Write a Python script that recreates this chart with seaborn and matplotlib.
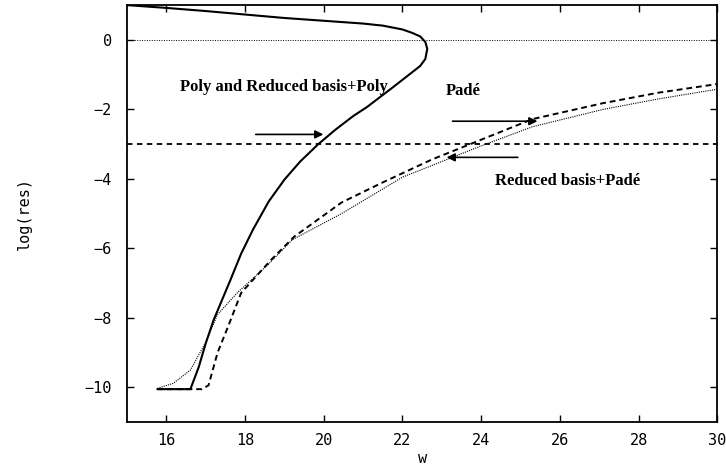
import matplotlib
matplotlib.use("Agg")
import matplotlib.pyplot as plt
import seaborn as sns
import pandas as pd

# Poly (and Reduced basis+Poly) -- solid
poly_w = [15.0, 16.0, 17.0, 18.0, 19.0, 20.0, 21.0, 21.5, 22.0, 22.25, 22.45, 22.58, 22.63,
          22.58, 22.45, 22.1, 21.76, 21.1, 20.75, 20.3, 19.86, 19.4, 19.0, 18.6, 18.2, 17.9,
          17.63, 17.2, 17.0, 16.82, 16.61, 15.77]
poly_res = [1.0, 0.92, 0.83, 0.73, 0.63, 0.55, 0.47, 0.41, 0.3, 0.2, 0.1, -0.06, -0.26,
            -0.55, -0.75, -1.06, -1.36, -1.93, -2.19, -2.58, -3.0, -3.5, -4.02, -4.65, -5.46,
            -6.15, -6.9, -8.06, -8.73, -9.42, -10.05, -10.05]

# Padé -- dashed
pade_w = [15.77, 16.5, 16.9, 17.07, 17.3, 17.56, 17.9, 18.66, 19.25, 20.45, 21.5, 22.75,
          23.5, 25.3, 27.1, 28.5, 30.0]
pade_res = [-10.05, -10.05, -10.05, -9.94, -9.0, -8.27, -7.28, -6.33, -5.66, -4.68, -4.1,
            -3.44, -3.1, -2.28, -1.82, -1.52, -1.27]

# Reduced basis+Padé -- dotted
rbp_w = [15.77, 16.18, 16.61, 17.0, 17.3, 17.8, 18.58, 19.2, 20.45, 22.0, 24.0, 25.3,
         27.1, 28.5, 30.0]
rbp_res = [-10.03, -9.88, -9.5, -8.7, -7.9, -7.28, -6.47, -5.75, -5.0, -3.95, -3.05, -2.5,
           -2.0, -1.7, -1.42]

tol_level = -3.0
zero_level = 0.0

x_ticks = [16, 18, 20, 22, 24, 26, 28, 30]
y_ticks = [0, -2, -4, -6, -8, -10]

sns.set_style("ticks")
plt.rcParams['font.family'] = ['DejaVu Sans Mono', 'DejaVu Sans']
plt.rcParams['text.color'] = 'black'
plt.rcParams['axes.labelcolor'] = 'black'

fig = plt.figure(figsize=(7.26, 4.67), dpi=100)
ax = fig.add_axes([0.175, 0.096, 0.813, 0.893])

df_poly = pd.DataFrame({"w": poly_w, "res": poly_res})
df_pade = pd.DataFrame({"w": pade_w, "res": pade_res})
df_rbp = pd.DataFrame({"w": rbp_w, "res": rbp_res})

sns.lineplot(data=df_poly, x="w", y="res", sort=False, estimator=None, ax=ax,
             color="black", lw=1.5)
sns.lineplot(data=df_pade, x="w", y="res", sort=False, estimator=None, ax=ax,
             color="black", lw=1.4, linestyle=(0, (3, 2)))
sns.lineplot(data=df_rbp, x="w", y="res", sort=False, estimator=None, ax=ax,
             color="black", lw=0.8, linestyle=(0, (1, 1)))

ax.axhline(tol_level, color="black", lw=1.3, linestyle=(0, (3, 2.5)))
ax.axhline(zero_level, color="black", lw=0.7, linestyle=(0, (1, 1.5)))

ax.set_xlim(15, 30)
ax.set_ylim(-11, 1)
ax.set_xticks(x_ticks)
ax.set_yticks(y_ticks)
ax.tick_params(direction="in", top=True, right=True, length=5, width=1,
               labelsize=11, colors="black")
ax.tick_params(axis="y", pad=11)
ax.tick_params(axis="x", pad=8)
for s in ax.spines.values():
    s.set_linewidth(1.3)
    s.set_color("black")

ax.set_xlabel("w", fontsize=11, labelpad=2)
ax.set_ylabel("log(res)", fontsize=11, labelpad=38)

serif = ["Liberation Serif", "DejaVu Serif"]
ax.text(16.35, -1.36, "Poly and Reduced basis+Poly", family=serif, fontsize=12,
        fontweight="bold", va="center", ha="left")
ax.annotate("", xy=(20.06, -2.72), xytext=(18.2, -2.72),
            arrowprops=dict(arrowstyle="-|>", color="black", lw=1.2, mutation_scale=12))
ax.text(23.1, -1.47, "Padé", family=serif, fontsize=12, fontweight="bold",
        va="center", ha="left")
ax.annotate("", xy=(25.5, -2.34), xytext=(23.2, -2.34),
            arrowprops=dict(arrowstyle="-|>", color="black", lw=1.2, mutation_scale=12))
ax.text(24.36, -4.05, "Reduced basis+Padé", family=serif, fontsize=12, fontweight="bold",
        va="center", ha="left")
ax.annotate("", xy=(23.05, -3.38), xytext=(25.0, -3.38),
            arrowprops=dict(arrowstyle="-|>", color="black", lw=1.2, mutation_scale=12))

fig.savefig("out.png", dpi=100)
